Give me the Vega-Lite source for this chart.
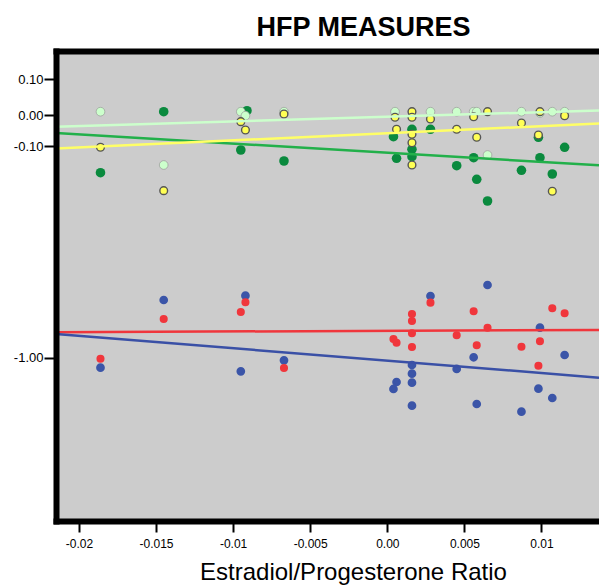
{
  "$schema": "https://vega.github.io/schema/vega-lite/v6.json",
  "width": 543,
  "height": 470,
  "autosize": {"type": "none"},
  "padding": {"left": 56, "top": 51, "right": 0, "bottom": 65},
  "background": "white",
  "title": {
    "text": "HFP MEASURES",
    "font": "Liberation Sans",
    "fontSize": 27,
    "fontWeight": "bold",
    "color": "black",
    "anchor": "middle",
    "frame": "group",
    "dx": 36,
    "dy": 28,
    "baseline": "alphabetic",
    "offset": 16
  },
  "config": {
    "view": {"fill": "#cccccc", "stroke": null},
    "axis": {"grid": false, "labelFont": "Liberation Sans", "titleFont": "Liberation Sans", "labelColor": "black", "titleColor": "black", "domainColor": "black", "tickColor": "black"}
  },
  "datasets": {
    "points": [
      {"measure": "g", "ratio": -0.0186, "score": -0.2135},
      {"measure": "g", "ratio": -0.0145, "score": 0.0092},
      {"measure": "g", "ratio": -0.0091, "score": 0.0119},
      {"measure": "g", "ratio": -0.0095, "score": -0.117},
      {"measure": "g", "ratio": -0.0067, "score": -0.1638},
      {"measure": "g", "ratio": 0.0004, "score": -0.07},
      {"measure": "g", "ratio": 0.0006, "score": -0.1523},
      {"measure": "g", "ratio": 0.0016, "score": -0.0461},
      {"measure": "g", "ratio": 0.0016, "score": -0.114},
      {"measure": "g", "ratio": 0.0016, "score": -0.1455},
      {"measure": "g", "ratio": 0.0028, "score": -0.0461},
      {"measure": "g", "ratio": 0.0045, "score": -0.1837},
      {"measure": "g", "ratio": 0.0056, "score": -0.1497},
      {"measure": "g", "ratio": 0.0058, "score": -0.2416},
      {"measure": "g", "ratio": 0.0065, "score": -0.3338},
      {"measure": "g", "ratio": 0.0087, "score": -0.2033},
      {"measure": "g", "ratio": 0.0098, "score": -0.0719},
      {"measure": "g", "ratio": 0.0099, "score": -0.1497},
      {"measure": "g", "ratio": 0.0107, "score": -0.219},
      {"measure": "g", "ratio": 0.0115, "score": -0.1055},

      {"measure": "p", "ratio": -0.0186, "score": 0.0092},
      {"measure": "p", "ratio": -0.0145, "score": -0.1808},
      {"measure": "p", "ratio": -0.0095, "score": 0.0092},
      {"measure": "p", "ratio": -0.0092, "score": -0.0023},
      {"measure": "p", "ratio": -0.0067, "score": 0.0092},
      {"measure": "p", "ratio": 0.0005, "score": 0.0092},
      {"measure": "p", "ratio": 0.0028, "score": 0.0092},
      {"measure": "p", "ratio": 0.0045, "score": 0.0092},
      {"measure": "p", "ratio": 0.0056, "score": 0.0092},
      {"measure": "p", "ratio": 0.0058, "score": 0.0092},
      {"measure": "p", "ratio": 0.0065, "score": -0.1383},
      {"measure": "p", "ratio": 0.0087, "score": 0.0092},
      {"measure": "p", "ratio": 0.0099, "score": 0.0056},
      {"measure": "p", "ratio": 0.0107, "score": 0.0092},
      {"measure": "p", "ratio": 0.0115, "score": 0.0092},

      {"measure": "y", "ratio": -0.0186, "score": -0.1055},
      {"measure": "y", "ratio": -0.0145, "score": -0.29},
      {"measure": "y", "ratio": -0.0095, "score": -0.0216},
      {"measure": "y", "ratio": -0.0092, "score": -0.0484},
      {"measure": "y", "ratio": -0.0067, "score": 0.0028},
      {"measure": "y", "ratio": 0.0005, "score": -0.0074},
      {"measure": "y", "ratio": 0.0006, "score": -0.0461},
      {"measure": "y", "ratio": 0.0016, "score": 0.0092},
      {"measure": "y", "ratio": 0.0016, "score": -0.0074},
      {"measure": "y", "ratio": 0.0016, "score": -0.0623},
      {"measure": "y", "ratio": 0.0016, "score": -0.0894},
      {"measure": "y", "ratio": 0.0016, "score": -0.1808},
      {"measure": "y", "ratio": 0.0028, "score": -0.0129},
      {"measure": "y", "ratio": 0.0045, "score": -0.0461},
      {"measure": "y", "ratio": 0.0056, "score": -0.0055},
      {"measure": "y", "ratio": 0.0058, "score": -0.0719},
      {"measure": "y", "ratio": 0.0065, "score": 0.0092},
      {"measure": "y", "ratio": 0.0087, "score": -0.0258},
      {"measure": "y", "ratio": 0.0098, "score": -0.0645},
      {"measure": "y", "ratio": 0.0099, "score": 0.0092},
      {"measure": "y", "ratio": 0.0107, "score": -0.2925},
      {"measure": "y", "ratio": 0.0115, "score": -0.0023},

      {"measure": "b", "ratio": -0.0186, "score": -1.0425},
      {"measure": "b", "ratio": -0.0145, "score": -0.7547},
      {"measure": "b", "ratio": -0.0092, "score": -0.7364},
      {"measure": "b", "ratio": -0.0095, "score": -1.0578},
      {"measure": "b", "ratio": -0.0067, "score": -1.011},
      {"measure": "b", "ratio": 0.0028, "score": -0.7377},
      {"measure": "b", "ratio": 0.0065, "score": -0.6909},
      {"measure": "b", "ratio": 0.0056, "score": -0.9982},
      {"measure": "b", "ratio": 0.0016, "score": -1.031},
      {"measure": "b", "ratio": 0.0016, "score": -1.068},
      {"measure": "b", "ratio": 0.0016, "score": -1.1062},
      {"measure": "b", "ratio": 0.0006, "score": -1.1033},
      {"measure": "b", "ratio": 0.0004, "score": -1.133},
      {"measure": "b", "ratio": 0.0016, "score": -1.204},
      {"measure": "b", "ratio": 0.0045, "score": -1.048},
      {"measure": "b", "ratio": 0.0058, "score": -1.1968},
      {"measure": "b", "ratio": 0.0087, "score": -1.2295},
      {"measure": "b", "ratio": 0.0099, "score": -0.8724},
      {"measure": "b", "ratio": 0.0098, "score": -1.1317},
      {"measure": "b", "ratio": 0.0107, "score": -1.1713},
      {"measure": "b", "ratio": 0.0115, "score": -0.9885},

      {"measure": "r", "ratio": -0.0186, "score": -1.0042},
      {"measure": "r", "ratio": -0.0145, "score": -0.8354},
      {"measure": "r", "ratio": -0.0092, "score": -0.7644},
      {"measure": "r", "ratio": -0.0095, "score": -0.8057},
      {"measure": "r", "ratio": -0.0067, "score": -1.0437},
      {"measure": "r", "ratio": 0.0028, "score": -0.766},
      {"measure": "r", "ratio": 0.0016, "score": -0.8142},
      {"measure": "r", "ratio": 0.0016, "score": -0.8439},
      {"measure": "r", "ratio": 0.0016, "score": -0.8962},
      {"measure": "r", "ratio": 0.0016, "score": -0.9545},
      {"measure": "r", "ratio": 0.0004, "score": -0.9204},
      {"measure": "r", "ratio": 0.0006, "score": -0.9362},
      {"measure": "r", "ratio": 0.0056, "score": -0.8027},
      {"measure": "r", "ratio": 0.0045, "score": -0.9047},
      {"measure": "r", "ratio": 0.0065, "score": -0.8724},
      {"measure": "r", "ratio": 0.0058, "score": -0.9472},
      {"measure": "r", "ratio": 0.0087, "score": -0.9532},
      {"measure": "r", "ratio": 0.0099, "score": -0.9302},
      {"measure": "r", "ratio": 0.0098, "score": -1.034},
      {"measure": "r", "ratio": 0.0107, "score": -0.79},
      {"measure": "r", "ratio": 0.0115, "score": -0.8112}
    ],
    "fits": [
      {"fit": "p", "ratio": -0.021485, "score": -0.0381},
      {"fit": "p", "ratio": 0.013729, "score": 0.0128},
      {"fit": "g", "ratio": -0.021485, "score": -0.0584},
      {"fit": "g", "ratio": 0.013729, "score": -0.182},
      {"fit": "y", "ratio": -0.021485, "score": -0.1106},
      {"fit": "y", "ratio": 0.013729, "score": -0.0274},
      {"fit": "r", "ratio": -0.021485, "score": -0.8915},
      {"fit": "r", "ratio": 0.013729, "score": -0.8822},
      {"fit": "b", "ratio": -0.021485, "score": -0.8992},
      {"fit": "b", "ratio": 0.013729, "score": -1.085}
    ]
  },
  "layer": [
    {
      "data": {"name": "points"},
      "mark": {"type": "circle", "opacity": 1},
      "encoding": {
        "x": {
          "field": "ratio", "type": "quantitative",
          "scale": {"domain": [-0.021485, 0.013729], "nice": false, "zero": false},
          "axis": {
            "orient": "bottom",
            "values": [-0.02, -0.015, -0.01, -0.005, 0, 0.005, 0.01],
            "labelExpr": "datum.value === 0 ? '0.00' : replace(format(datum.value, '~g'), '\u2212', '-')",
            "labelFontSize": 12, "labelPadding": 6, "labelFlush": false, "labelOverlap": false,
            "tickSize": 11, "tickWidth": 2,
            "domainWidth": 6, "domainCap": "square",
            "zindex": 1,
            "title": "Estradiol/Progesterone Ratio",
            "titleFontSize": 24, "titleFontWeight": "normal",
            "titleX": 297, "titleY": 58, "titleAlign": "center", "titleBaseline": "alphabetic"
          }
        },
        "y": {
          "field": "score", "type": "quantitative",
          "scale": {"domain": [-1.6942, -1, -0.1, 0, 0.1, 0.1778], "range": [470, 306.7, 95, 64, 28, 0], "nice": false, "zero": false},
          "axis": {
            "orient": "left",
            "values": [0.1, 0, -0.1, -1],
            "labelExpr": "replace(format(datum.value, '.2f'), '\u2212', '-')",
            "labelFontSize": 13, "labelPadding": 1, "labelFlush": false, "labelOverlap": false,
            "tickSize": 12, "tickWidth": 2,
            "domainWidth": 6, "domainCap": "square",
            "zindex": 1,
            "title": null
          }
        },
        "fill": {
          "field": "measure", "type": "nominal", "legend": null,
          "scale": {"domain": ["g", "p", "y", "b", "r"], "range": ["#0a8a3e", "#ccffcc", "#ffff55", "#3b55a8", "#f0363c"]}
        },
        "stroke": {
          "field": "measure", "type": "nominal", "legend": null,
          "scale": {"domain": ["g", "p", "y", "b", "r"], "range": ["#0a8a3e", "#9a9a9a", "#555555", "#3b55a8", "#f0363c"]}
        },
        "strokeWidth": {
          "field": "measure", "type": "nominal", "legend": null,
          "scale": {"domain": ["g", "p", "y", "b", "r"], "range": [0, 2.8, 2.8, 0, 0]}
        },
        "size": {
          "field": "measure", "type": "nominal", "legend": null,
          "scale": {"domain": ["g", "p", "y", "b", "r"], "range": [92, 28, 28, 95, 95]}
        }
      }
    },
    {
      "data": {"name": "fits"},
      "mark": {"type": "line", "strokeWidth": 2.5},
      "encoding": {
        "x": {
          "field": "ratio", "type": "quantitative",
          "scale": {"domain": [-0.021485, 0.013729], "nice": false, "zero": false},
          "axis": {"orient": "top", "labels": false, "ticks": false, "title": null, "domainWidth": 6, "domainCap": "square", "zindex": 1}
        },
        "y": {
          "field": "score", "type": "quantitative",
          "scale": {"domain": [-1.6942, -1, -0.1, 0, 0.1, 0.1778], "range": [470, 306.7, 95, 64, 28, 0], "nice": false, "zero": false},
          "axis": null
        },
        "color": {
          "field": "fit", "type": "nominal", "legend": null,
          "scale": {"domain": ["p", "g", "y", "r", "b"], "range": ["#ccffcc", "#22b04a", "#ffff66", "#f0363c", "#3a50a6"]}
        }
      }
    }
  ],
  "resolve": {"axis": {"x": "independent", "y": "independent"}}
}
